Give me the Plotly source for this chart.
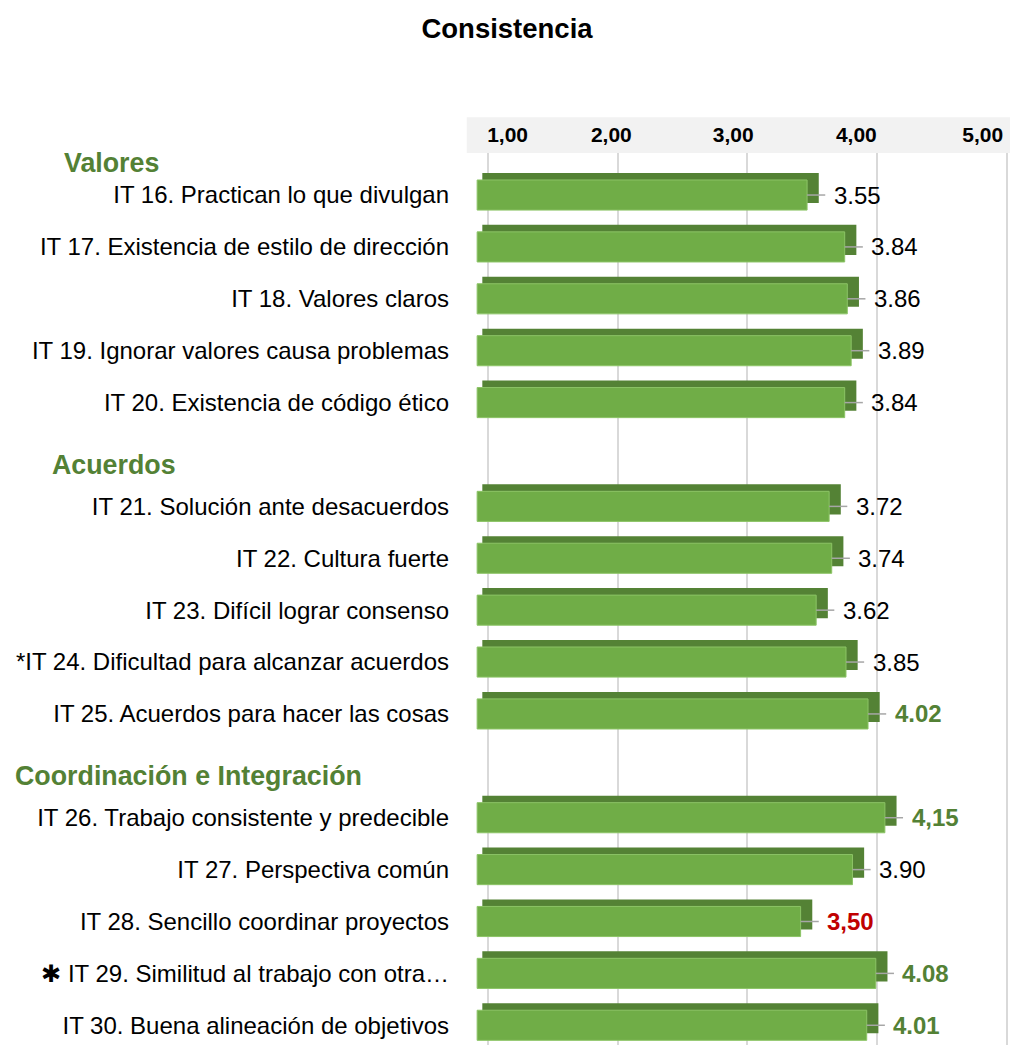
import plotly.graph_objects as go

# data
groups = ["Valores", "Acuerdos", "Coordinación e Integración"]
items = [
    ["IT 16. Practican lo que divulgan",
     "IT 17. Existencia de estilo de dirección",
     "IT 18. Valores claros",
     "IT 19. Ignorar valores causa problemas",
     "IT 20. Existencia de código ético"],
    ["IT 21. Solución ante desacuerdos",
     "IT 22. Cultura fuerte",
     "IT 23. Difícil lograr consenso",
     "*IT 24. Dificultad para alcanzar acuerdos",
     "IT 25. Acuerdos para hacer las cosas"],
    ["IT 26. Trabajo consistente y predecible",
     "IT 27. Perspectiva común",
     "IT 28. Sencillo coordinar proyectos",
     "✱ IT 29. Similitud al trabajo con otra…",
     "IT 30. Buena alineación de objetivos"],
]
values = [
    [3.55, 3.84, 3.86, 3.89, 3.84],
    [3.72, 3.74, 3.62, 3.85, 4.02],
    [4.15, 3.90, 3.50, 4.08, 4.01],
]
value_labels = [
    ["3.55", "3.84", "3.86", "3.89", "3.84"],
    ["3.72", "3.74", "3.62", "3.85", "4.02"],
    ["4,15", "3.90", "3,50", "4.08", "4.01"],
]
# highlight: 0 normal, 1 high (green), -1 low (red)
highlight = [
    [0, 0, 0, 0, 0],
    [0, 0, 0, 0, 1],
    [1, 0, -1, 1, 1],
]
tick_vals = [1, 2, 3, 4, 5]
tick_text = ["1,00", "2,00", "3,00", "4,00", "5,00"]
# the 3D original draws its axis labels slightly off the gridlines
label_nudge = [0.15, -0.05, -0.11, -0.16, -0.185]

FACE = "#70AD47"
DARK = "#548235"
GREEN_TXT = "#538135"
RED_TXT = "#C00000"
FONT = "Arial, Liberation Sans, sans-serif"
XRANGE = [0.86, 5.025]

# flatten with one empty slot between groups
ypos, labels, vals, vlabels, hl = [], [], [], [], []
header_pos = []
slot = 0
for g, name in enumerate(groups):
    if g > 0:
        slot += 1
    header_pos.append(slot - 0.8 if g > 0 else -0.62)
    for i, it in enumerate(items[g]):
        ypos.append(slot)
        labels.append(it)
        vals.append(values[g][i])
        vlabels.append(value_labels[g][i])
        hl.append(highlight[g][i])
        slot += 1

front_base = 0.915
back_base = 0.955

fig = go.Figure()

# back/top/side of the pseudo-3D bar
fig.add_trace(go.Bar(
    y=ypos, x=[v - back_base for v in vals], base=back_base,
    orientation="h", width=0.58, offset=-0.425,
    marker=dict(color=DARK, line=dict(width=0)),
    hoverinfo="skip", showlegend=False,
))
# front face
fig.add_trace(go.Bar(
    y=ypos, x=[v - 0.09 - front_base for v in vals], base=front_base,
    orientation="h", width=0.58, offset=-0.29,
    marker=dict(color=FACE, line=dict(width=1, color="#8CC466")),
    customdata=vals, hovertemplate="%{customdata:.2f}<extra></extra>",
    showlegend=False,
))
# leader lines
fig.add_trace(go.Scatter(
    x=[v - 0.09 for v in vals], y=ypos, mode="markers",
    marker=dict(size=1, color="rgba(0,0,0,0)"),
    error_x=dict(type="data", symmetric=False, array=[0.14] * len(vals),
                 arrayminus=[0] * len(vals), color="#A6A6A6", thickness=1.5, width=0),
    hoverinfo="skip", showlegend=False,
))
# invisible trace that carries the top label axis
fig.add_trace(go.Scatter(x=tick_vals, y=[ypos[0]] * len(tick_vals), xaxis="x2",
                         mode="markers", marker=dict(opacity=0), hoverinfo="skip",
                         showlegend=False))

# value labels
colors = [GREEN_TXT if h == 1 else RED_TXT if h == -1 else "#000000" for h in hl]
weights = ["bold" if h != 0 else "normal" for h in hl]
for x, y, t, c, w in zip(vals, ypos, vlabels, colors, weights):
    fig.add_annotation(x=x + 0.1, y=y, text=t, showarrow=False, xanchor="left",
                       yanchor="middle", font=dict(size=24, color=c, family=FONT, weight=w))

# group headers
header_x = [62, 50, 13]
for name, yp, px in zip(groups, header_pos, header_x):
    fig.add_annotation(x=(px - 470) / 540, xref="paper", y=yp, yref="y", text=name,
                       showarrow=False, xanchor="left", yanchor="middle",
                       font=dict(size=26.8, color=GREEN_TXT, family=FONT, weight="bold"))

# grey band behind the top axis labels
fig.add_shape(type="rect", xref="paper", yref="paper", x0=-0.006, x1=1.0,
              y0=1.0, y1=1.04, fillcolor="#F2F2F2", line=dict(width=0), layer="below")

fig.update_layout(
    title=dict(text="<b>Consistencia</b>", x=0.502, xref="container", y=0.973,
               yref="container", yanchor="middle", xanchor="center",
               font=dict(size=27.5, color="#000000", family=FONT)),
    width=1010, height=1045,
    margin=dict(l=470, r=0, t=153, b=0),
    plot_bgcolor="white", paper_bgcolor="white",
    barmode="overlay",
    font=dict(family=FONT, color="#000000"),
    xaxis=dict(side="top", range=XRANGE, tickvals=tick_vals, showticklabels=False,
               ticks="", showgrid=True, gridcolor="#D9D9D9", gridwidth=2,
               zeroline=False, showline=False, fixedrange=True),
    xaxis2=dict(side="top", overlaying="x", range=XRANGE,
                tickvals=[v + d for v, d in zip(tick_vals, label_nudge)],
                ticktext=tick_text, tickfont=dict(size=21, family=FONT, weight="bold"),
                ticks="", ticklabelstandoff=6, showgrid=False, zeroline=False,
                showline=False, fixedrange=True),
    yaxis=dict(range=[16.38, -0.81], tickvals=ypos, ticktext=labels,
               tickfont=dict(size=24, family=FONT), ticks="", ticklabelstandoff=20,
               showgrid=False, zeroline=False, showline=False, fixedrange=True),
)

fig.write_html("out.html", config={"displayModeBar": False},
               post_script="document.body.style.margin='0';")
